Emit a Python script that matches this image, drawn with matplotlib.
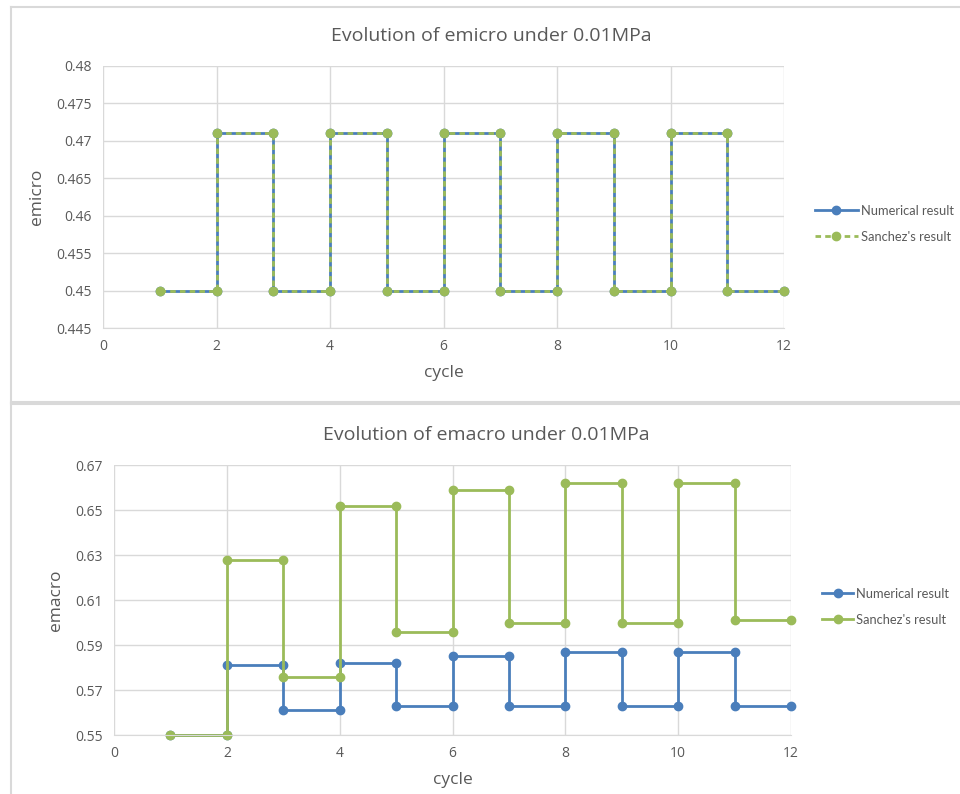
import matplotlib.pyplot as plt
from matplotlib.lines import Line2D

# emicro data (numerical and Sanchez's are identical)
micro_cycle = [1, 2, 2, 3, 3, 4, 4, 5, 5, 6, 6, 7, 7, 8, 8, 9, 9, 10, 10, 11, 11, 12]
micro_num = [0.45, 0.45, 0.471, 0.471, 0.45, 0.45, 0.471, 0.471, 0.45, 0.45, 0.471,
             0.471, 0.45, 0.45, 0.471, 0.471, 0.45, 0.45, 0.471, 0.471, 0.45, 0.45]
micro_sanchez = [0.45, 0.45, 0.471, 0.471, 0.45, 0.45, 0.471, 0.471, 0.45, 0.45, 0.471,
                 0.471, 0.45, 0.45, 0.471, 0.471, 0.45, 0.45, 0.471, 0.471, 0.45, 0.45]

# emacro data
macro_cycle = [1, 2, 2, 3, 3, 4, 4, 5, 5, 6, 6, 7, 7, 8, 8, 9, 9, 10, 10, 11, 11, 12]
macro_num = [0.55, 0.55, 0.581, 0.581, 0.561, 0.561, 0.582, 0.582, 0.563, 0.563, 0.585,
             0.585, 0.563, 0.563, 0.587, 0.587, 0.563, 0.563, 0.587, 0.587, 0.563, 0.563]
macro_sanchez = [0.55, 0.55, 0.628, 0.628, 0.576, 0.576, 0.652, 0.652, 0.596, 0.596, 0.659,
                 0.659, 0.600, 0.600, 0.662, 0.662, 0.600, 0.600, 0.662, 0.662, 0.601, 0.601]

blue = '#4a7ebb'
green = '#9bbb59'
grid_c = '#d9d9d9'
text_c = '#595959'

plt.rcParams['font.family'] = ['Open Sans', 'DejaVu Sans']

fig = plt.figure(figsize=(9.6, 7.94), dpi=100)

# chart frames
W, H = 960, 794
def hline(x0, x1, y):
    fig.add_artist(Line2D([x0 / W, x1 / W], [1 - y / H, 1 - y / H], color=grid_c, lw=1.5))
def vline(x, y0, y1):
    fig.add_artist(Line2D([x / W, x / W], [1 - y0 / H, 1 - y1 / H], color=grid_c, lw=1.5))

hline(11, 960, 7)
vline(11, 7, 402)
hline(11, 960, 402)
hline(11, 960, 404)
vline(11, 404, 794)


def style(ax, ylim, yticks, ylabel, title, title_x, leg_xy, handle_len):
    ax.set_xlim(0, 12)
    ax.set_ylim(*ylim)
    ax.set_xticks(range(0, 13, 2))
    ax.set_yticks(yticks)
    ax.grid(True, color=grid_c, lw=1)
    ax.set_axisbelow(True)
    for s in ax.spines.values():
        s.set_visible(False)
    ax.spines['bottom'].set_visible(True)
    ax.spines['bottom'].set_color(grid_c)
    ax.tick_params(length=0, colors=text_c, labelsize=10, pad=8)
    ax.set_xlabel('cycle', color=text_c, fontsize=12.5, labelpad=8)
    ax.set_ylabel(ylabel, color=text_c, fontsize=12.5, labelpad=8)
    ax.set_title(title, color=text_c, fontsize=14, pad=18, x=title_x)
    leg = ax.legend(loc='upper left', bbox_to_anchor=(leg_xy[0] / W, 1 - leg_xy[1] / H),
                    bbox_transform=fig.transFigure, frameon=False, borderpad=0,
                    borderaxespad=0, prop={'family': 'Lato', 'size': 9.3},
                    handlelength=handle_len, labelspacing=1.05, handletextpad=0.25)
    for t in leg.get_texts():
        t.set_color(text_c)


# top chart
ax1 = fig.add_axes([0.1073, 0.5869, 0.7094, 0.330])
ax1.plot(micro_cycle, micro_num, color=blue, lw=2, marker='o', ms=6, clip_on=False,
         label='Numerical result')
ax1.plot(micro_cycle, micro_sanchez, color=green, lw=2, ls=(0, (2, 1.5)), marker='o', ms=6,
         clip_on=False, label="Sanchez's result")
style(ax1, (0.445, 0.48), [0.445 + 0.005 * i for i in range(8)], 'emicro',
      'Evolution of emicro under 0.01MPa', 0.57, (815, 205), 3.3)
ax1.set_yticklabels(['0.445', '0.45', '0.455', '0.46', '0.465', '0.47', '0.475', '0.48'])

# bottom chart
ax2 = fig.add_axes([0.1188, 0.0743, 0.7052, 0.340])
ax2.plot(macro_cycle, macro_num, color=blue, lw=2, marker='o', ms=6, clip_on=False,
         label='Numerical result')
ax2.plot(macro_cycle, macro_sanchez, color=green, lw=2, marker='o', ms=6, clip_on=False,
         label="Sanchez's result")
style(ax2, (0.55, 0.67), [0.55 + 0.02 * i for i in range(7)], 'emacro',
      'Evolution of emacro under 0.01MPa', 0.55, (822, 588), 2.4)
ax2.set_yticklabels(['0.55', '0.57', '0.59', '0.61', '0.63', '0.65', '0.67'])

fig.savefig('out.png', dpi=100)
